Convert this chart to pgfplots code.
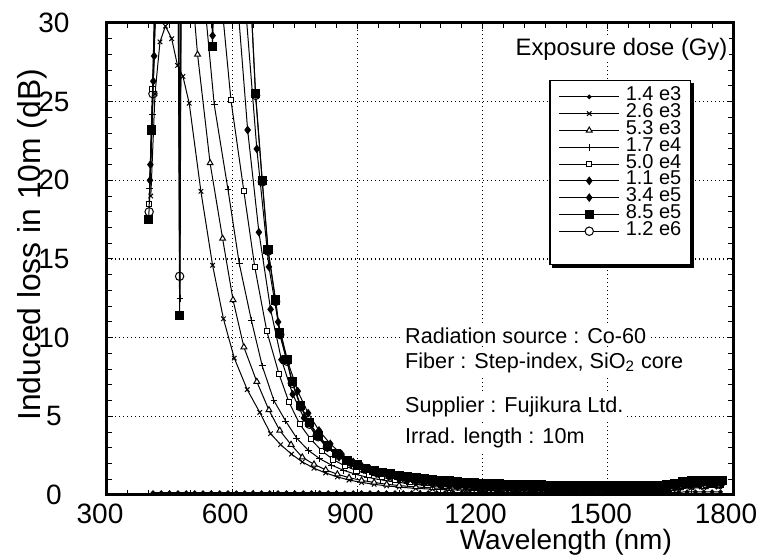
\documentclass[border=0pt]{standalone}
\usepackage{fontspec}
\setmainfont{Liberation Sans}
\usepackage{pgfplots}
\pgfplotsset{compat=1.18}
\pgfplotsset{mylegend/.style={legend image code/.code={\draw[mark repeat=2,mark phase=2] plot coordinates {(0pt,0pt) (15pt,0pt) (30pt,0pt)};}}}

\begin{document}
\begin{tikzpicture}
\useasboundingbox (-53.5pt,-30.5pt) rectangle (326.5pt,247.5pt);
\begin{axis}[
  at={(0pt,0pt)}, anchor=south west,
  width=313pt, height=236pt, scale only axis,
  xmin=300, xmax=1800, ymin=0, ymax=30,
  xtick={300,600,...,1800}, ytick={0,5,...,30},
  minor x tick num=5, minor y tick num=4,
  tick align=inside,
  major tick length=3pt, minor tick length=2.5pt,
  every tick/.style={black, line width=0.5pt},
  axis line style={line width=1.5pt},
  grid=major,
  major grid style={black, line width=0.6pt, dash pattern=on 0.7pt off 1.3pt},
  /pgf/number format/assume math mode=true,
  /pgf/number format/1000 sep={},
  ticklabel style={font=\fontsize{14}{14}\selectfont, inner sep=0pt},
  xticklabel style={anchor=center, xshift=-3.5pt},
  xticklabel shift=9.5pt,
  yticklabel style={anchor=center, xshift=-26.5pt},
  xlabel={Wavelength (nm)},
  ylabel={Induced loss in 10m (dB)},
  xlabel style={font=\fontsize{14}{14}\selectfont, inner sep=0pt, at={(axis description cs:0.733,-0.1)}, anchor=center},
  ylabel style={font=\fontsize{15.9}{16}\selectfont, inner sep=0pt, at={(axis description cs:-0.1198,0.53)}, anchor=center},
  clip marker paths=true,
  every axis plot/.append style={black, line width=0.5pt},
  legend cell align=left,
  legend style={name=leg, at={(rel axis cs:0.706,0.88)}, anchor=north west, draw=black, line width=0.8pt, fill=white,
    inner xsep=4.5pt, inner ysep=4pt, font=\fontsize{10}{10}\selectfont,
    nodes={inner sep=0pt, text height=6.2pt, text depth=2.2pt},
    /tikz/every odd column/.append style={column sep=3pt}},
]
% 1.2 e6 (drawn first, legend entry added later)
\addplot[forget plot, mark=*, mark size=2.1pt, mark options={fill=white}] coordinates {
(401,18)(410,25.5)(418,33)(470,36)(474,13.9)(478,36)(640,34)(656,25.4)(672,19.9)(686,15.5)
(704,12.3)(714,10.2)(731,8.5)(744,7.1)(764,5.6)(785,4.5)(806,3.7)(828,3.05)(850,2.55)(875,2.12)
(900,1.82)(928,1.55)(955,1.34)(985,1.17)(1015,1.04)(1050,0.92)(1085,0.82)(1120,0.74)(1160,0.67)(1200,0.62)
(1240,0.58)(1280,0.55)(1320,0.53)(1360,0.51)(1400,0.5)(1440,0.49)(1480,0.48)(1520,0.48)(1560,0.49)(1600,0.5)
(1635,0.53)(1660,0.6)(1685,0.74)(1715,0.78)(1745,0.8)(1772,0.82)};
% 1.4 e3
\addplot[mylegend, mark=*, mark size=0.9pt] coordinates {
(410,0.15)(430,0.15)(450,0.15)(470,0.15)(490,0.15)(510,0.15)(530,0.15)(550,0.15)(570,0.15)(590,0.15)
(610,0.15)(630,0.15)(650,0.15)(670,0.15)(690,0.15)(710,0.15)(730,0.15)(750,0.15)(770,0.15)(790,0.15)
(810,0.15)(830,0.15)(850,0.15)(870,0.15)(890,0.15)(910,0.15)(930,0.15)(950,0.15)(970,0.15)(990,0.15)
(1010,0.15)(1030,0.15)(1050,0.15)(1070,0.15)(1090,0.15)(1110,0.15)(1130,0.15)(1150,0.15)(1170,0.15)(1190,0.15)
(1210,0.15)(1230,0.15)(1250,0.15)(1270,0.15)(1290,0.15)(1310,0.15)(1330,0.15)(1350,0.15)(1370,0.15)(1390,0.15)
(1410,0.15)(1430,0.15)(1450,0.15)(1470,0.15)(1490,0.15)(1510,0.15)(1530,0.15)(1550,0.15)(1570,0.15)(1590,0.15)
(1610,0.15)(1630,0.15)(1650,0.15)(1670,0.18)(1690,0.2)(1710,0.2)(1730,0.2)(1750,0.2)(1770,0.2)};
\addlegendentry{1.4 e3}
% 2.6 e3
\addplot[mylegend, mark=x, mark size=1.6pt] coordinates {
(405,19.0)(415,25.5)(427,28.8)(440,29.8)(455,29.0)(469,27.3)(482,26.6)(497,24.9)(525,19.3)(553,14.6)
(579,11.2)(605,8.7)(636,6.7)(666,5.25)(692,3.9)(716,3.2)(742,2.6)(768,2.1)(796,1.7)(824,1.4)
(852,1.15)(880,0.95)(910,0.8)(940,0.68)(970,0.58)(1000,0.5)(1040,0.42)(1080,0.37)(1120,0.33)(1160,0.3)
(1200,0.28)(1240,0.27)(1280,0.26)(1320,0.25)(1360,0.25)(1400,0.24)(1440,0.24)(1480,0.24)(1520,0.24)(1560,0.25)
(1600,0.26)(1640,0.29)(1670,0.4)(1700,0.45)(1730,0.47)(1765,0.5)};
\addlegendentry{2.6 e3}
% 5.3 e3
\addplot[mylegend, mark=triangle*, mark size=1.7pt, mark options={fill=white}] coordinates {
(498,34)(517,28.0)(547,21.1)(577,16.3)(602,12.4)(628,9.4)(659,7.2)(688,5.4)(714,4.1)(741,3.2)
(768,2.4)(796,1.95)(824,1.6)(852,1.32)(880,1.1)(910,0.93)(940,0.8)(970,0.68)(1000,0.6)(1040,0.51)
(1080,0.45)(1120,0.4)(1160,0.37)(1200,0.34)(1240,0.32)(1280,0.31)(1320,0.3)(1360,0.3)(1400,0.29)(1440,0.29)
(1480,0.29)(1520,0.29)(1560,0.3)(1600,0.31)(1640,0.34)(1670,0.46)(1700,0.5)(1730,0.52)(1765,0.55)};
\addlegendentry{5.3 e3}
% 1.7 e4
\addplot[mylegend, mark=+, mark size=1.7pt] coordinates {
(402,19.5)(409,24.2)(418,34)(472,36)(475,12.5)(478,36)(535,31)(557,24.8)(590,19.4)(617,14.7)
(646,11.1)(672,8.2)(700,6.0)(728,4.7)(755,3.6)(782,2.85)(810,2.3)(838,1.9)(866,1.58)(895,1.32)
(925,1.12)(955,0.97)(985,0.85)(1020,0.73)(1060,0.62)(1100,0.54)(1140,0.48)(1180,0.44)(1220,0.41)(1260,0.39)
(1300,0.37)(1340,0.36)(1380,0.35)(1420,0.34)(1460,0.34)(1500,0.33)(1540,0.33)(1580,0.34)(1620,0.36)(1650,0.4)
(1675,0.52)(1705,0.56)(1735,0.58)(1768,0.6)};
\addlegendentry{1.7 e4}
% 5.0 e4
\addplot[mylegend, mark=square*, mark size=1.3pt, mark options={fill=white}] coordinates {
(401,18.5)(409,25.8)(417,34)(565,34)(597,25.1)(628,19.3)(654,14.5)(683,10.4)(712,7.7)(736,5.9)
(762,4.5)(788,3.55)(815,2.8)(842,2.25)(870,1.85)(898,1.55)(928,1.3)(958,1.12)(990,0.97)(1025,0.84)
(1060,0.74)(1100,0.65)(1140,0.58)(1180,0.53)(1220,0.49)(1260,0.46)(1300,0.44)(1340,0.42)(1380,0.41)(1420,0.4)
(1460,0.39)(1500,0.38)(1540,0.38)(1580,0.39)(1620,0.41)(1650,0.45)(1672,0.57)(1700,0.62)(1735,0.64)(1770,0.65)};
\addlegendentry{5.0 e4}
% 1.1 e5
\addplot[mylegend, mark=diamond*, mark size=1.8pt] coordinates {
(404,21)(411,26.3)(419,34)(549,34)(553,29.2)(557,34)(605,34)(637,23.2)(664,16.7)(692,11.8)
(718,8.6)(745,6.4)(772,4.9)(800,3.8)(828,3.0)(856,2.4)(885,1.95)(915,1.62)(945,1.36)(975,1.15)
(1000,1.0)(1020,0.9)(1040,0.81)(1060,0.74)(1080,0.67)(1100,0.61)(1120,0.56)(1140,0.52)(1160,0.48)(1180,0.45)
(1200,0.42)(1220,0.4)(1240,0.38)(1260,0.37)(1280,0.36)(1300,0.35)(1320,0.34)(1340,0.33)(1360,0.32)(1380,0.32)
(1400,0.31)(1420,0.31)(1440,0.3)(1460,0.3)(1480,0.3)(1500,0.29)(1520,0.29)(1540,0.29)(1560,0.3)(1580,0.3)
(1600,0.31)(1620,0.33)(1640,0.36)(1660,0.44)(1680,0.56)(1700,0.6)(1720,0.62)(1740,0.63)(1760,0.64)(1772,0.65)};
\addlegendentry{1.1 e5}
% 3.4 e5
\addplot[mylegend, mark=diamond*, mark size=1.8pt] coordinates {
(403,20)(413,27.9)(421,35)(620,35)(659,22.0)(688,14.5)(710,11.0)(733,8.5)(757,6.6)(782,5.2)
(808,4.1)(835,3.25)(862,2.6)(890,2.1)(910,1.86)(930,1.66)(950,1.5)(970,1.37)(990,1.25)(1010,1.14)
(1030,1.05)(1050,0.97)(1070,0.9)(1090,0.84)(1110,0.78)(1130,0.73)(1150,0.69)(1170,0.65)(1190,0.62)(1210,0.6)
(1230,0.58)(1250,0.56)(1270,0.54)(1290,0.53)(1310,0.52)(1330,0.51)(1350,0.5)(1370,0.49)(1390,0.48)(1410,0.48)
(1430,0.47)(1450,0.47)(1470,0.46)(1490,0.46)(1510,0.46)(1530,0.46)(1550,0.46)(1570,0.47)(1590,0.47)(1610,0.48)
(1630,0.5)(1650,0.55)(1670,0.63)(1690,0.73)(1710,0.76)(1730,0.77)(1750,0.78)(1772,0.79)};
\addlegendentry{3.4 e5}
% 8.5 e5
\addplot[mylegend, mark=square*, mark size=2.1pt] coordinates {
(400,17.5)(407,23.2)(415,32)(470,36)(474,11.4)(478,36)(549,34)(553,28.5)(557,34)(640,34)
(656,25.5)(672,20.0)(686,15.6)(704,12.4)(714,10.3)(731,8.6)(744,7.2)(764,5.7)(785,4.6)(806,3.8)
(828,3.15)(850,2.65)(875,2.2)(900,1.9)(920,1.7)(940,1.56)(960,1.44)(980,1.33)(1000,1.24)(1020,1.16)
(1040,1.09)(1060,1.03)(1080,0.97)(1100,0.92)(1120,0.88)(1140,0.84)(1160,0.8)(1180,0.77)(1200,0.74)(1220,0.72)
(1240,0.7)(1260,0.68)(1280,0.66)(1300,0.65)(1320,0.64)(1340,0.63)(1360,0.62)(1380,0.61)(1400,0.6)(1420,0.6)
(1440,0.59)(1460,0.59)(1480,0.58)(1500,0.58)(1520,0.58)(1540,0.58)(1560,0.59)(1580,0.6)(1600,0.6)(1620,0.62)
(1640,0.64)(1660,0.7)(1680,0.82)(1700,0.88)(1720,0.9)(1740,0.91)(1760,0.92)(1775,0.93)};
\addlegendentry{8.5 e5}
\addlegendimage{mylegend, black, line width=0.5pt, mark=*, mark size=2.1pt, mark options={fill=white}}
\addlegendentry{1.2 e6}
\addlegendimage{empty legend}
\addlegendentry{}

\node[anchor=base west, fill=white, inner sep=1pt, font=\fontsize{11.9}{12}\selectfont] at (rel axis cs:0.649,0.932) {Exposure dose (Gy)};
\node[anchor=base west, fill=white, inner sep=1.5pt, font=\fontsize{10.8}{11}\selectfont] at (rel axis cs:0.471,0.322) {Radiation source : Co-60};
\node[anchor=base west, fill=white, inner sep=1.5pt, font=\fontsize{10.8}{11}\selectfont] at (rel axis cs:0.471,0.269) {Fiber : Step-index, SiO\textsubscript{2} core};
\node[anchor=base west, fill=white, inner sep=1.5pt, font=\fontsize{10.8}{11}\selectfont] at (rel axis cs:0.471,0.174) {Supplier : Fujikura Ltd.};
\node[anchor=base west, fill=white, inner sep=1.5pt, font=\fontsize{10.8}{11}\selectfont] at (rel axis cs:0.471,0.110) {Irrad. length : 10m};
\end{axis}
\draw[line width=1.4pt] ([xshift=0.7pt,yshift=-1.5pt]leg.north east) -- ([xshift=0.7pt,yshift=-0.7pt]leg.south east) -- ([xshift=1.5pt,yshift=-0.7pt]leg.south west);
\end{tikzpicture}
\end{document}
